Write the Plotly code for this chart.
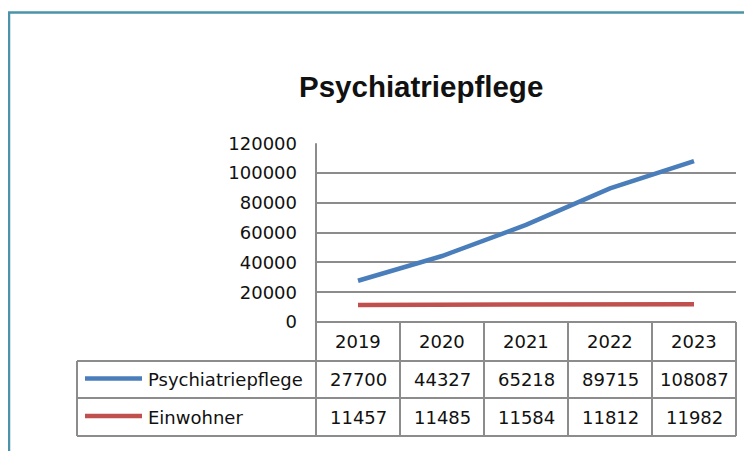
import plotly.graph_objects as go

years = ["2019", "2020", "2021", "2022", "2023"]
psych = [27700, 44327, 65218, 89715, 108087]
einw = [11457, 11485, 11584, 11812, 11982]
series_names = ["Psychiatriepflege", "Einwohner"]
y_ticks = [0, 20000, 40000, 60000, 80000, 100000, 120000]
title_text = "Psychiatriepflege"

# page has an 8px body margin; figure sized to fit inside the window
OFF = 8
FW, FH = 736, 443
BLUE = "#4a7ebb"
RED = "#c0504d"
GRID = "#8c8c8c"
FONT = "DejaVu Sans"
TFONT = "Liberation Sans"
TXT = "#111111"


def px(x):
    return (x - OFF) / FW


def py(y):
    return 1 - (y - OFF) / FH


x0, x1 = 316, 736
y_top, y_zero = 143.3, 322
row_lines = [322, 361, 398, 436]
leg_left = 77

fig = go.Figure()
fig.add_trace(go.Scatter(x=years, y=psych, mode="lines", name=series_names[0],
                         line=dict(color=BLUE, width=4.5), showlegend=False))
fig.add_trace(go.Scatter(x=years, y=einw, mode="lines", name=series_names[1],
                         line=dict(color=RED, width=4.5), showlegend=False))

shapes = []
ann = []
BORDER = "#4a93a8"
shapes.append(dict(type="line", xref="paper", yref="paper", x0=0, x1=1, y0=py(12.5), y1=py(12.5),
                   line=dict(color=BORDER, width=2.5)))
shapes.append(dict(type="line", xref="paper", yref="paper", x0=px(9), x1=px(9), y0=py(12), y1=0,
                   line=dict(color=BORDER, width=2.5)))

ncol = len(years)
colw = (x1 - x0) / ncol
shapes.append(dict(type="line", xref="paper", yref="paper", x0=px(x0), x1=px(x1),
                   y0=py(row_lines[0]), y1=py(row_lines[0]), line=dict(color=GRID, width=2)))
for yl in row_lines[1:]:
    shapes.append(dict(type="line", xref="paper", yref="paper", x0=px(leg_left), x1=px(x1),
                       y0=py(yl), y1=py(yl), line=dict(color=GRID, width=2)))
for i in range(ncol + 1):
    xv = x0 + i * colw
    top = y_top if i == 0 else row_lines[0]
    shapes.append(dict(type="line", xref="paper", yref="paper", x0=px(xv), x1=px(xv),
                       y0=py(top), y1=py(row_lines[-1]), line=dict(color=GRID, width=2)))
shapes.append(dict(type="line", xref="paper", yref="paper", x0=px(leg_left), x1=px(leg_left),
                   y0=py(row_lines[1]), y1=py(row_lines[-1]), line=dict(color=GRID, width=2)))

tfont = dict(family=FONT, size=18, color=TXT)
for j, yr in enumerate(years):
    ann.append(dict(x=j, xref="x", y=py((row_lines[0] + row_lines[1]) / 2), yref="paper", text=yr,
                    showarrow=False, font=tfont, yanchor="middle"))
for r, (vals, color, name) in enumerate([(psych, BLUE, series_names[0]), (einw, RED, series_names[1])]):
    yc = (row_lines[r + 1] + row_lines[r + 2]) / 2
    for j, v in enumerate(vals):
        ann.append(dict(x=j, xref="x", y=py(yc), yref="paper", text=str(v),
                        showarrow=False, font=tfont, yanchor="middle"))
    shapes.append(dict(type="line", xref="paper", yref="paper", x0=px(85), x1=px(142),
                       y0=py(yc - 1), y1=py(yc - 1), line=dict(color=color, width=4.5)))
    ann.append(dict(x=px(146), xref="paper", y=py(yc), yref="paper", text=name, xanchor="left",
                    showarrow=False, font=tfont, yanchor="middle"))

ann.append(dict(x=px(421), xref="paper", y=py(86), yref="paper", text="<b>" + title_text + "</b>",
                xanchor="center", yanchor="middle", showarrow=False,
                font=dict(family=TFONT, size=29.5, color=TXT)))

fig.update_layout(
    width=FW, height=FH,
    margin=dict(l=0, r=0, t=0, b=0, autoexpand=False),
    paper_bgcolor="white", plot_bgcolor="white",
    xaxis=dict(domain=[px(x0), px(x1)], type="category", range=[-0.5, 4.5], showticklabels=False,
               showgrid=False, zeroline=False, showline=False, fixedrange=True, automargin=False),
    yaxis=dict(domain=[py(y_zero), py(y_top)], range=[0, 120000], tickvals=y_ticks,
               ticktext=[str(t) for t in y_ticks], showgrid=True, gridcolor=GRID, gridwidth=2,
               zeroline=False, showline=False, ticks="", ticklabelstandoff=18, automargin=False,
               tickfont=dict(family=FONT, size=18, color=TXT)),
    shapes=shapes, annotations=ann,
)
fig.write_html("out.html")
